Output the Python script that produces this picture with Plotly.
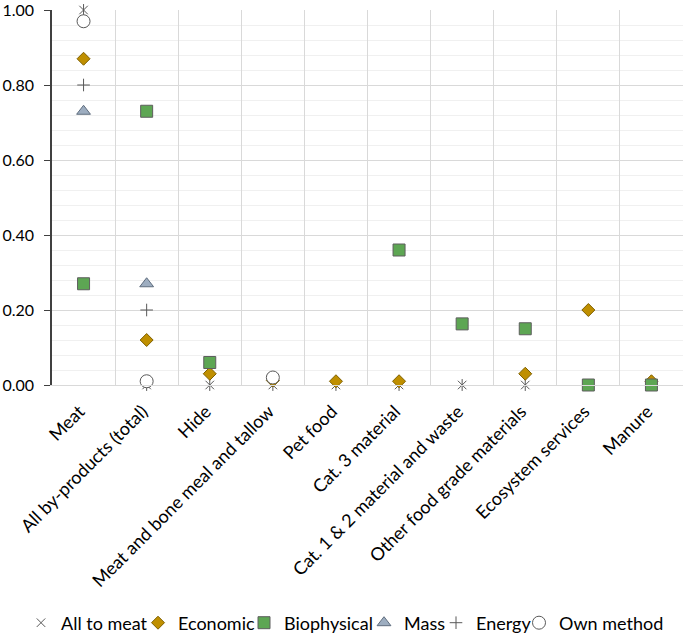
import plotly.graph_objects as go

categories = ["Meat", "All by-products (total)", "Hide", "Meat and bone meal and tallow",
              "Pet food", "Cat. 3 material", "Cat. 1 & 2 material and waste",
              "Other food grade materials", "Ecosystem services", "Manure"]

all_to_meat = [1.00, 0.00, 0.00, 0.00, 0.00, 0.00, 0.00, 0.00, None, None]
economic    = [0.87, 0.12, 0.03, 0.012, 0.01, 0.01, None, 0.03, 0.20, 0.01]
biophysical = [0.27, 0.73, 0.06, None, None, 0.36, 0.163, 0.15, 0.00, 0.00]
mass        = [0.73, 0.27, None, None, None, None, None, None, None, None]
energy      = [0.80, 0.20, None, None, None, None, None, None, None, None]
own_method  = [0.97, 0.01, None, 0.02, None, None, None, None, None, None]

y_ticks = [0.0, 0.2, 0.4, 0.6, 0.8, 1.0]

W, H = 685, 633
ML, MR, MT, MB = 52, 2, 10, 248
PW, PH = W - ML - MR, H - MT - MB
FONT = "Lato, Carlito, sans-serif"
GRAY = "#595959"

# (name, values, marker, legend id, legend text start in px)
series = [
    ("All to meat", all_to_meat, dict(symbol="x-thin-open", size=8.5, color=GRAY,
                                       line=dict(color=GRAY, width=1)), "legend", 61),
    ("Economic", economic, dict(symbol="diamond", size=10, color="#BF8F00",
                                line=dict(color="#7F6000", width=1)), "legend2", 178),
    ("Biophysical", biophysical, dict(symbol="square", size=12, color="#5DA653",
                                      line=dict(color="#5E5E5E", width=1)), "legend3", 284),
    ("Mass", mass, dict(symbol="triangle-up", size=12, color="#9DADC0",
                        line=dict(color="#5F6D7E", width=1)), "legend4", 404),
    ("Energy", energy, dict(symbol="cross-thin-open", size=9, color=GRAY,
                            line=dict(color=GRAY, width=1)), "legend5", 476),
    ("Own method", own_method, dict(symbol="circle", size=13, color="white",
                                    line=dict(color=GRAY, width=1)), "legend6", 559),
]

fig = go.Figure()
legends = {}
for name, vals, mk, leg, tx in series:
    fig.add_trace(go.Scatter(x=categories, y=vals, mode="markers", name=name,
                             marker=mk, cliponaxis=False, legend=leg, legendgroup=name))
    if name == "All to meat":
        # vertical stroke to form the Excel "star" marker
        fig.add_trace(go.Scatter(x=categories, y=vals, mode="markers", name=name,
                                 marker=dict(symbol="line-ns-open", size=8.5, color=GRAY,
                                             line=dict(color=GRAY, width=1)),
                                 cliponaxis=False, showlegend=False, legend=leg,
                                 legendgroup=name))
    legends[leg] = dict(x=(tx - 40 - ML) / PW, xanchor="left",
                        y=(H - MB - 623) / PH, yanchor="middle",
                        orientation="h",
                        font=dict(family=FONT, size=18, color="#000000"),
                        bgcolor="rgba(0,0,0,0)", borderwidth=0)

fig.update_layout(
    width=W, height=H,
    margin=dict(l=ML, r=MR, t=MT, b=MB, autoexpand=False),
    plot_bgcolor="white", paper_bgcolor="white",
    font=dict(family=FONT, size=18, color="#000000"),
    showlegend=True,
    **legends,
)
fig.update_xaxes(
    type="category", tickson="boundaries", tickangle=-45,
    showgrid=True, gridcolor="#D9D9D9", gridwidth=1,
    showline=True, linecolor="#D9D9D9", linewidth=1,
    ticks="", range=[-0.5, 9.5], tickfont=dict(size=18),
    ticklabelstandoff=8, ticklabelshift=-4, automargin=False,
)
fig.update_yaxes(
    range=[0, 1], tickvals=y_ticks, tickformat=".2f",
    showgrid=True, gridcolor="#D9D9D9", gridwidth=1,
    showline=True, linecolor="#404040", linewidth=1.5,
    ticks="outside", ticklen=6, tickcolor="#404040",
    ticklabelstandoff=7, ticklabeloverflow="allow",
    minor=dict(dtick=0.04, showgrid=True, gridcolor="#F0F0F0", gridwidth=1, ticks=""),
    tickfont=dict(size=16), zeroline=False, automargin=False,
)

fig.write_html("out.html", config={"displayModeBar": False},
               post_script="document.body.style.margin='0';document.body.style.overflow='hidden';")
